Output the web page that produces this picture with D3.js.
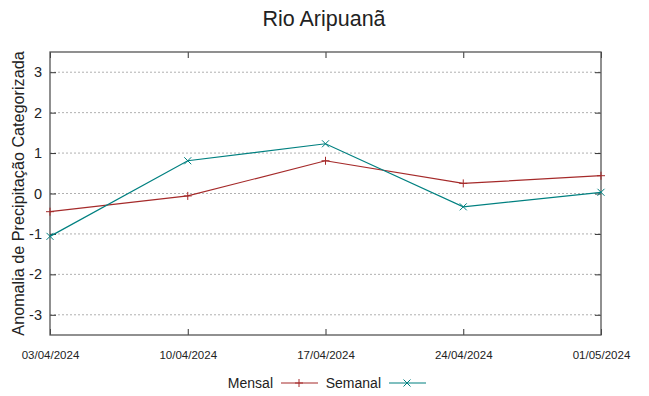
<!DOCTYPE html>
<html>
<head>
<meta charset="utf-8">
<script src="https://cdn.jsdelivr.net/npm/d3@7"></script>
<style>
  body { margin: 0; background: #fff; }
  text { font-family: "Liberation Sans", Arial, sans-serif; fill: #222; }
</style>
</head>
<body>
<script>
// data
var dates = ["03/04/2024", "10/04/2024", "17/04/2024", "24/04/2024", "01/05/2024"];
var mensal = [-0.45, -0.06, 0.81, 0.25, 0.44];
var semanal = [-1.06, 0.81, 1.23, -0.33, 0.03];
var yTicks = [-3, -2, -1, 0, 1, 2, 3];

var width = 649, height = 396;
var margin = { left: 50, right: 48, top: 52, bottom: 61 };

var svg = d3.select("body").append("svg")
    .attr("width", width)
    .attr("height", height);

var x = d3.scalePoint().domain(dates).range([margin.left, width - margin.right]);
var y = d3.scaleLinear().domain([-3.5, 3.5]).range([height - margin.bottom, margin.top]);

// grid
svg.append("g").selectAll("line")
    .data(yTicks)
    .enter().append("line")
        .attr("x1", margin.left)
        .attr("x2", width - margin.right)
        .attr("y1", function(d) { return y(d) })
        .attr("y2", function(d) { return y(d) })
        .style("stroke", "#b0b0b0")
        .style("stroke-width", 1)
        .style("stroke-dasharray", "2,2");

// axes
var yAxis = svg.append("g")
    .attr("transform", "translate(" + margin.left + ",0)")
    .call(d3.axisLeft(y).tickValues(yTicks).tickFormat(function(d) { return String(d) }).tickSize(-6).tickPadding(8));
var yAxisR = svg.append("g")
    .attr("transform", "translate(" + (width - margin.right) + ",0)")
    .call(d3.axisRight(y).tickValues(yTicks).tickSize(-6).tickFormat(""));
var xAxis = svg.append("g")
    .attr("transform", "translate(0," + (height - margin.bottom) + ")")
    .call(d3.axisBottom(x).tickSize(-6).tickPadding(16));
var xAxisT = svg.append("g")
    .attr("transform", "translate(0," + margin.top + ")")
    .call(d3.axisTop(x).tickSize(-6).tickFormat(""));

[yAxis, yAxisR, xAxis, xAxisT].forEach(function(a) {
    a.select(".domain").remove();
    a.selectAll(".tick line").style("stroke", "#333");
});
yAxis.selectAll(".tick text").style("font-size", "14.5px").style("fill", "#222");
xAxis.selectAll(".tick text").style("font-size", "11.5px").style("fill", "#222");

svg.append("rect")
    .attr("x", margin.left)
    .attr("y", margin.top)
    .attr("width", width - margin.left - margin.right)
    .attr("height", height - margin.top - margin.bottom)
    .style("fill", "none")
    .style("stroke", "#555")
    .style("stroke-width", 1.3);

// series
var line = d3.line()
    .x(function(d, i) { return x(dates[i]) })
    .y(function(d) { return y(d) });

function plus(g, cx, cy, c) {
    g.append("path").attr("d", "M" + (cx - 4) + "," + cy + "H" + (cx + 4) + "M" + cx + "," + (cy - 4) + "V" + (cy + 4))
        .style("stroke", c).style("stroke-width", 1);
}
function cross(g, cx, cy, c) {
    g.append("path").attr("d", "M" + (cx - 3.5) + "," + (cy - 3.5) + "L" + (cx + 3.5) + "," + (cy + 3.5) +
        "M" + (cx - 3.5) + "," + (cy + 3.5) + "L" + (cx + 3.5) + "," + (cy - 3.5))
        .style("stroke", c).style("stroke-width", 1);
}

var series = [
    { name: "Mensal", values: mensal, color: "#a52a2a", mark: plus },
    { name: "Semanal", values: semanal, color: "#008080", mark: cross }
];

series.forEach(function(s) {
    svg.append("path")
        .datum(s.values)
        .attr("d", line)
        .style("fill", "none")
        .style("stroke", s.color)
        .style("stroke-width", 1.2);
    var g = svg.append("g");
    s.values.forEach(function(v, i) { s.mark(g, x(dates[i]), y(v), s.color) });
});

// title + labels
svg.append("text")
    .attr("x", 324).attr("y", 26)
    .attr("text-anchor", "middle")
    .style("font-size", "21.5px")
    .text("Rio Aripuanã");

svg.append("text")
    .attr("transform", "translate(24," + y(0) + ") rotate(-90)")
    .attr("text-anchor", "middle")
    .style("font-size", "16.2px")
    .text("Anomalia de Precipitação Categorizada");

// legend
var legendX = [273, 381];
series.forEach(function(s, i) {
    var lx = legendX[i], ly = 383;
    svg.append("text")
        .attr("x", lx).attr("y", ly + 5)
        .attr("text-anchor", "end")
        .style("font-size", "14px")
        .text(s.name);
    var g = svg.append("g");
    g.append("line")
        .attr("x1", lx + 8).attr("x2", lx + 45)
        .attr("y1", ly).attr("y2", ly)
        .style("stroke", s.color).style("stroke-width", 1.2);
    s.mark(g, lx + 26, ly, s.color);
});
</script>
</body>
</html>
